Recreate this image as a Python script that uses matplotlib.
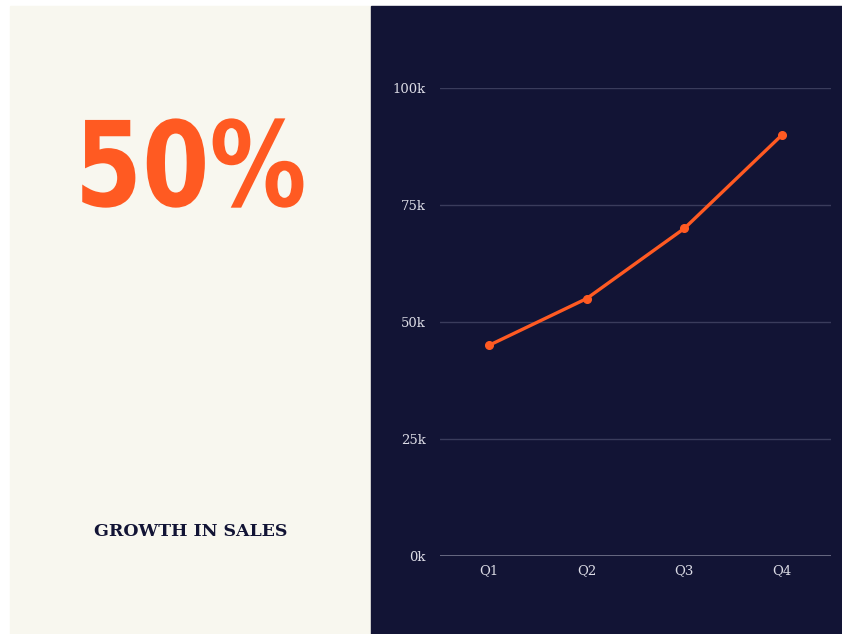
import matplotlib.pyplot as plt
from matplotlib.patches import Rectangle
from matplotlib.ticker import FuncFormatter
from matplotlib.transforms import Affine2D
import matplotlib.patheffects as pe

# data
quarters = ["Q1", "Q2", "Q3", "Q4"]
sales = [45000, 55000, 70000, 90000]
y_ticks = [0, 25000, 50000, 75000, 100000]
headline = "50%"
caption = "GROWTH IN SALES"

orange = "#ff5a22"
navy = "#121435"
cream = "#f8f7ef"

W, H = 842, 634
fig = plt.figure(figsize=(W / 100, H / 100), dpi=100, facecolor="white")


def fx(px):
    return px / W


def fy(py):
    return 1 - py / H


class Squeeze(pe.AbstractPathEffect):
    # narrows the glyphs horizontally around their own centre
    def __init__(self, sx):
        super().__init__()
        self.sx = sx

    def draw_path(self, renderer, gc, tpath, affine, rgbFace=None):
        ext = tpath.get_extents(affine)
        cx = (ext.x0 + ext.x1) / 2
        squeeze = Affine2D().translate(-cx, 0).scale(self.sx, 1).translate(cx, 0)
        renderer.draw_path(gc, tpath, affine + squeeze, rgbFace)


# background panels
bg = fig.add_axes([0, 0, 1, 1], zorder=0)
bg.set_xlim(0, W)
bg.set_ylim(H, 0)
bg.axis("off")
bg.add_patch(Rectangle((10, 6), 361, H - 6, color=cream))
bg.add_patch(Rectangle((371, 6), W - 371, H - 6, color=navy))

# big number
bg.text(190, 206, headline, color=orange, ha="center", va="baseline",
        fontsize=85, fontweight="bold", family=["DejaVu Sans"],
        path_effects=[Squeeze(0.82)])

bg.text(191, 531, caption, color=navy, ha="center", va="center",
        fontsize=12.5, fontweight="bold", family=["DejaVu Serif"])

# chart
ax = fig.add_axes([fx(440), fy(556), fx(831) - fx(440), fy(88) - fy(556)], zorder=2)
ax.set_facecolor("none")
x = list(range(len(quarters)))
ax.plot(x, sales, color=orange, lw=2.4, marker="o", ms=5.5, zorder=3,
        solid_capstyle="round", clip_on=False)

ax.set_xlim(-0.5, len(quarters) - 0.5)
ax.set_ylim(0, 100000)
ax.set_xticks(x)
ax.set_xticklabels(quarters)
ax.set_yticks(y_ticks)
ax.yaxis.set_major_formatter(FuncFormatter(lambda v, p: f"{int(v / 1000)}k"))

for v in y_ticks[1:]:
    ax.axhline(v, color="#3a3c5c", lw=1, zorder=1)
ax.axhline(0, color="#75778f", lw=1.2, zorder=2)

for s in ax.spines.values():
    s.set_visible(False)
ax.tick_params(length=0, colors="#dcdce6", labelsize=9.5, pad=6)
ax.tick_params(axis="y", pad=10)
for lab in ax.get_xticklabels() + ax.get_yticklabels():
    lab.set_family("DejaVu Serif")

fig.savefig("out.png", dpi=100, facecolor="white")
